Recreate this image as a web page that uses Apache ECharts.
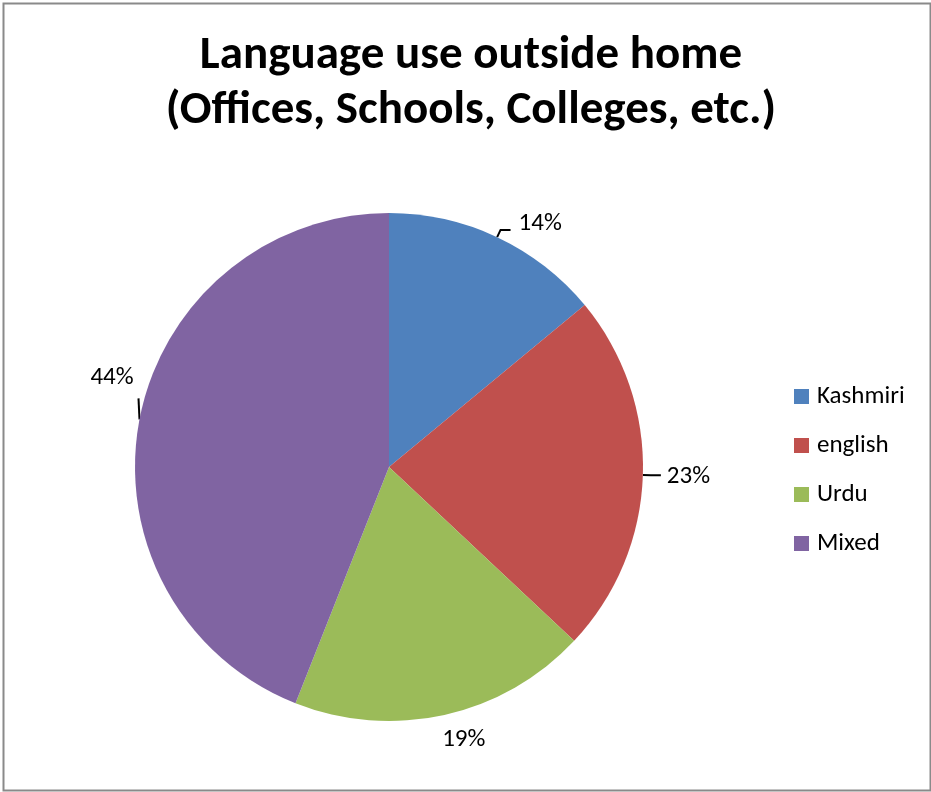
<!DOCTYPE html>
<html>
<head>
<meta charset="utf-8">
<title>Language use outside home</title>
<script src="https://cdn.jsdelivr.net/npm/echarts@6/dist/echarts.min.js"></script>
<style>
  html, body { margin: 0; padding: 0; background: #fff; }
  #chart { width: 931px; height: 792px; }
</style>
</head>
<body>
<div id="chart"></div>
<script>
// Share of respondents by language used in offices, schools, colleges
const categories = ['Kashmiri', 'english', 'Urdu', 'Mixed'];
const shares = [14, 23, 19, 44];
const colors = ['#4F81BD', '#C0504D', '#9BBB59', '#8064A2'];

// Nudges for the value labels so they sit clear of the pie edge
const labelNudge = [[4, -6], [2, 2], [-18, 17], [16, -40]];

const FONT = 'Carlito, Lato, "Open Sans", sans-serif';

const chart = echarts.init(document.getElementById('chart'));
chart.setOption({
  backgroundColor: '#ffffff',
  animation: false,
  title: {
    text: 'Language use outside home\n(Offices, Schools, Colleges, etc.)',
    left: 466,
    textAlign: 'center',
    top: 24,
    textStyle: {
      fontFamily: FONT,
      fontWeight: 'bold',
      fontSize: 47,
      lineHeight: 55,
      color: '#000'
    }
  },
  legend: {
    orient: 'vertical',
    left: 789,
    top: 379,
    itemWidth: 15,
    itemHeight: 15,
    itemGap: 24,
    icon: 'rect',
    data: categories,
    textStyle: { fontFamily: FONT, fontSize: 25, lineHeight: 25, color: '#000', padding: [0, 0, 0, 3] }
  },
  graphic: [{
    type: 'rect',
    left: 1, top: 1,
    shape: { width: 927, height: 787 },
    style: { fill: 'none', stroke: '#8a8a8a', lineWidth: 2 },
    silent: true
  }],
  series: [{
    type: 'pie',
    center: [389, 467],
    radius: 254,
    startAngle: 90,
    clockwise: true,
    color: colors,
    data: categories.map((name, i) => ({
      name,
      value: shares[i],
      // the Urdu label sits right under its slice, so it needs no leader
      labelLine: { show: name !== 'Urdu' }
    })),
    label: {
      show: true,
      position: 'outside',
      formatter: '{c}%',
      fontFamily: FONT,
      fontSize: 25,
      color: '#000',
      distanceToLabelLine: 4
    },
    labelLine: {
      show: true,
      length: 8,
      length2: 10,
      lineStyle: { color: '#000', width: 2 }
    },
    labelLayout: function (p) {
      const n = labelNudge[p.dataIndex];
      const out = { dx: n[0], dy: n[1] };
      if (p.dataIndex === 3 && p.labelLinePoints) {
        // short vertical leader rising from the slice edge
        const s = p.labelLinePoints[0];
        const t = [s[0] - 1, s[1] - 21];
        out.labelLinePoints = [s, t, t];
      }
      return out;
    },
    emphasis: { disabled: true }
  }]
});
</script>
</body>
</html>
